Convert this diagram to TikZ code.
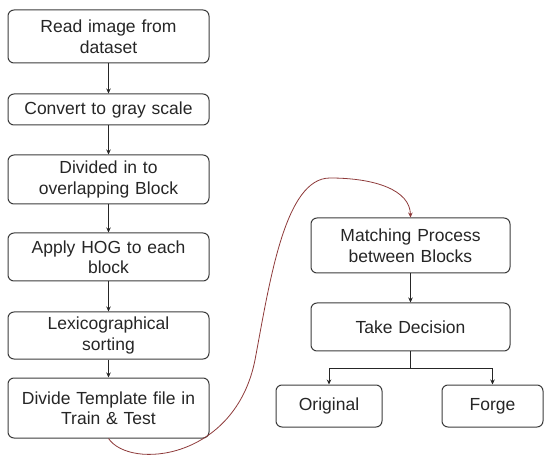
\documentclass[tikz,border=0pt]{standalone}
\usepackage{fontspec}
\setmainfont{Liberation Sans}
\usetikzlibrary{arrows.meta,positioning}
\definecolor{ink}{HTML}{262626}
\definecolor{edge}{HTML}{3C3C3C}
\definecolor{link}{HTML}{8E3A3A}
\tikzset{
  >={Stealth[length=5pt,width=4.5pt]},
  every node/.style={font=\fontsize{17.5}{20.5}\selectfont,text=ink},
  box/.style={draw=edge,line width=1pt,rounded corners=6pt,fill=white,minimum width=201pt,text width=190pt,align=center,inner sep=2pt},
  leaf/.style={box,minimum width=106pt,text width=96pt,minimum height=42pt},
  arrow/.style={->,line width=0.8pt,draw=ink},
  jump/.style={->,line width=0.8pt,draw=link},
}

\begin{document}
\begin{tikzpicture}[x=1pt,y=-1pt]
\useasboundingbox (0,0) rectangle (544,457);

% left column
\node[box,minimum height=53pt] (read) at (108.5,36.5) {Read image from\\dataset};
\node[box,minimum height=31pt,below=30pt of read] (gray) {Convert to gray scale};
\node[box,minimum height=49pt,below=29pt of gray] (blocks) {Divided in to\\overlapping Block};
\node[box,minimum height=48pt,below=28pt of blocks] (hog) {Apply HOG to each\\block};
\node[box,minimum height=47pt,below=30pt of hog] (lexi) {Lexicographical\\sorting};
\node[box,minimum height=60pt,below=18pt of lexi] (split) {Divide Template file in\\Train \& Test};

\draw[arrow] (read) -- (gray);
\draw[arrow] (gray) -- (blocks);
\draw[arrow] (blocks) -- (hog);
\draw[arrow] (hog) -- (lexi);
\draw[arrow] (lexi) -- (split);

% right column
\node[box,minimum width=199pt,minimum height=55pt] (match) at (410.5,245.5) {Matching Process\\between Blocks};
\node[box,minimum width=199pt,minimum height=48pt,below=29pt of match] (decide) {Take Decision};
\node[leaf] (orig) at (329,406) {Original};
\node[leaf,minimum width=101pt] (forge) at (492.5,406) {Forge};

\draw[arrow] (match) -- (decide);
\draw[arrow] (decide.south) -- ++(0,17) -| (orig.north);
\draw[arrow] (decide.south) -- ++(0,17) -| (forge.north);

% hand-drawn link
\draw[jump] (split.south) .. controls (130,470) and (235,460) .. (255,360)
  .. controls (270,280) and (285,178) .. (330,178)
  .. controls (375,178) and (410,190) .. (match.north);

\end{tikzpicture}
\end{document}
